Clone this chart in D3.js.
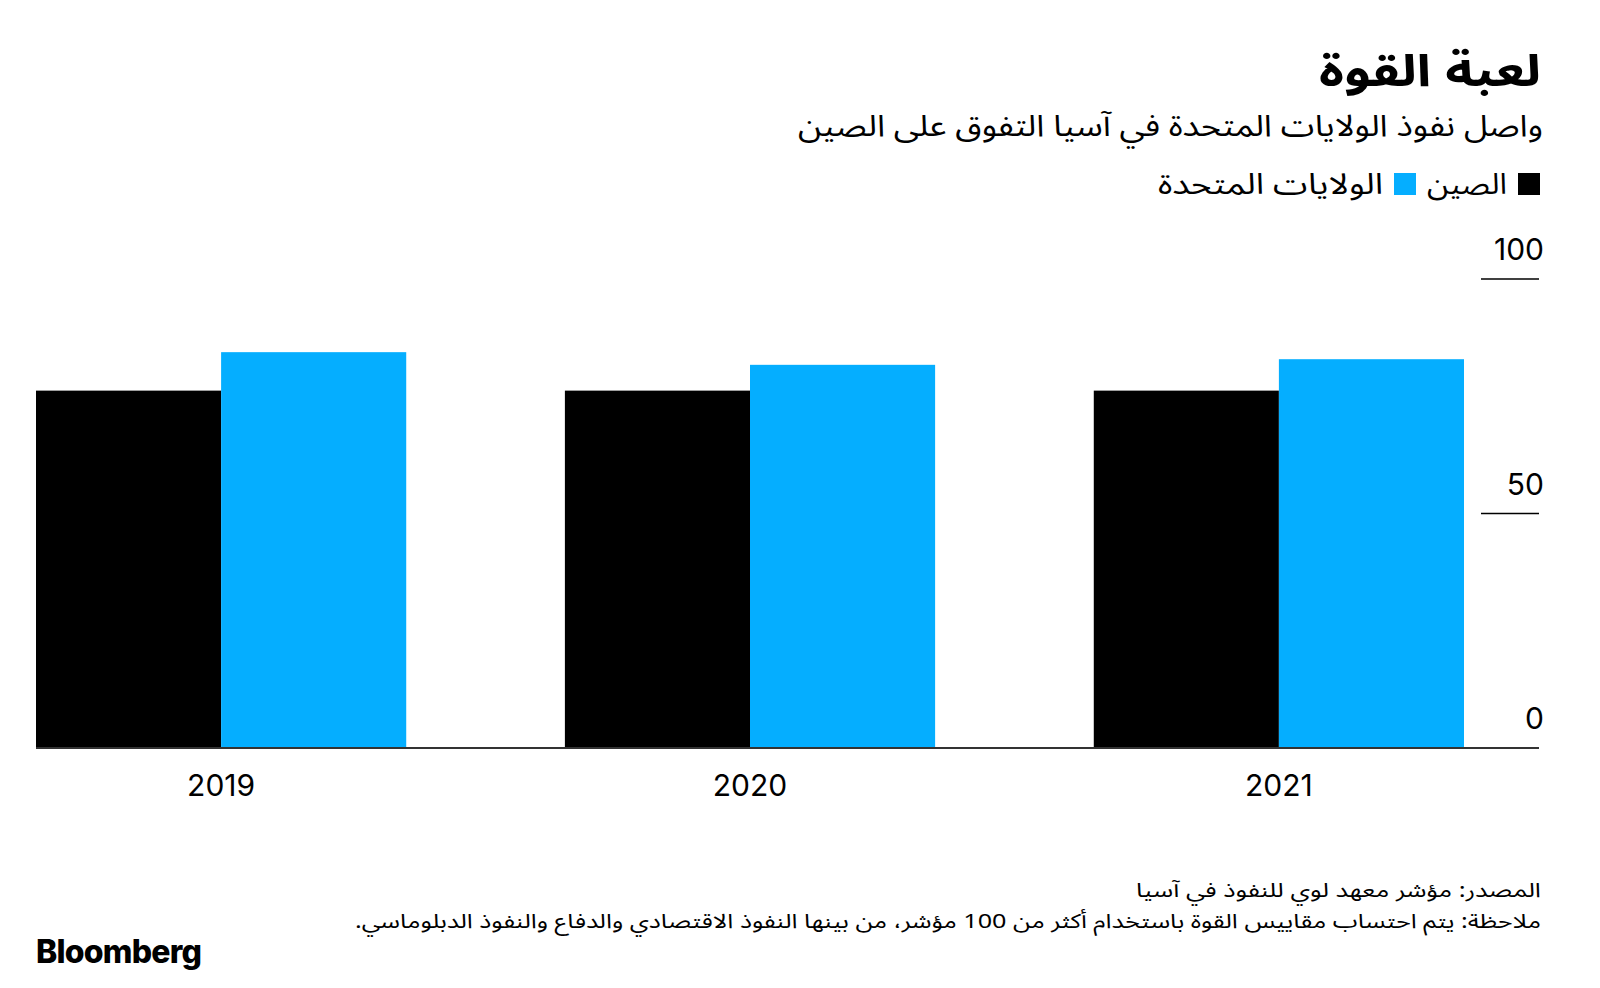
<!DOCTYPE html>
<html>
<head>
<meta charset="utf-8">
<script src="https://cdn.jsdelivr.net/npm/d3@7"></script>
<style>
  html, body { margin: 0; padding: 0; background: #fff; }
  svg { display: block; }
  .ar { font-family: "Noto Sans Arabic", "DejaVu Sans", sans-serif; }
  .num { font-family: "Inter", "Roboto", "Noto Sans", sans-serif; }
</style>
</head>
<body>
<svg id="chart" width="1600" height="988"></svg>
<script>
// ---- data ----
const years = ["2019", "2020", "2021"];
const seriesNames = ["الصين", "الولايات المتحدة"];
const seriesColors = ["#000000", "#05aeff"];
const chinaValues = [76.2, 76.2, 76.2];
const usValues = [84.4, 81.7, 82.9];
const yTicks = [0, 50, 100];

const titleText = "لعبة القوة";
const subtitleText = "واصل نفوذ الولايات المتحدة في آسيا التفوق على الصين";
const sourceText = "المصدر: مؤشر معهد لوي للنفوذ في آسيا";
const noteText = "ملاحظة: يتم احتساب مقاييس القوة باستخدام أكثر من 100 مؤشر، من بينها النفوذ الاقتصادي والدفاع والنفوذ الدبلوماسي.";

const svg = d3.select("#chart");
const rightEdge = 1541;

// ---- scales ----
const x0 = d3.scaleBand().domain(years).range([36, 1464]).paddingInner(0.3).paddingOuter(0);
const x1 = d3.scaleBand().domain([0, 1]).range([0, x0.bandwidth()]).padding(0);
const y = d3.scaleLinear().domain([0, 100]).range([748, 279]);

const rows = years.map((yr, i) => ({ year: yr, vals: [chinaValues[i], usValues[i]] }));

// ---- helper for right-aligned Arabic text, widened to the reference's measure ----
function rtlText(sel, txt, xx, yy, size, weight, len) {
  const t = sel.append("text")
    .attr("class", "ar")
    .attr("x", xx).attr("y", yy)
    .attr("direction", "rtl")
    .style("direction", "rtl")
    .attr("text-anchor", "start")
    .attr("font-size", size)
    .attr("font-weight", weight || 400)
    .attr("fill", "#000")
    .text(txt);
  if (len) t.attr("textLength", len).attr("lengthAdjust", "spacingAndGlyphs");
  return t;
}
rtlText(svg, titleText, rightEdge, 86, 44, 700, 222);
rtlText(svg, subtitleText, rightEdge + 2, 136, 30, 400, 745);

// ---- legend ----
const legend = svg.append("g");
const legendTextLens = [80, 225];
const legendSquares = [1518, 1394];
seriesNames.forEach((name, i) => {
  const sx = legendSquares[i];
  legend.append("rect")
    .attr("x", sx).attr("y", 173).attr("width", 22).attr("height", 22)
    .attr("fill", seriesColors[i]);
  rtlText(legend, name, sx - 11, 194, 29, 400, legendTextLens[i]);
});

// ---- bars ----
const g = svg.append("g");
g.selectAll("g.grp").data(rows).join("g")
  .attr("class", "grp")
  .attr("transform", d => `translate(${x0(d.year)},0)`)
  .selectAll("rect").data(d => d.vals.map((v, k) => ({ v, k }))).join("rect")
  .attr("x", d => x1(d.k))
  .attr("width", x1.bandwidth())
  .attr("y", d => y(d.v))
  .attr("height", d => y(0) - y(d.v))
  .attr("fill", d => seriesColors[d.k]);

// ---- y axis (right) ----
const yAxis = svg.append("g");
yTicks.forEach(t => {
  if (t !== 0) {
    yAxis.append("line")
      .attr("x1", 1481).attr("x2", 1539)
      .attr("y1", y(t)).attr("y2", y(t))
      .attr("stroke", "#000").attr("stroke-width", 1.5);
  }
  yAxis.append("text")
    .attr("class", "num")
    .attr("x", 1544).attr("y", y(t) - 19)
    .attr("text-anchor", "end")
    .attr("font-size", 30)
    .attr("fill", "#000")
    .text(t);
});

// baseline
svg.append("line")
  .attr("x1", 36).attr("x2", 1539)
  .attr("y1", y(0)).attr("y2", y(0))
  .attr("stroke", "#333").attr("stroke-width", 2);

// ---- x axis labels ----
const xAxis = d3.axisBottom(x0).tickSize(0).tickPadding(0);
const xg = svg.append("g").attr("transform", `translate(0,${y(0)})`).call(xAxis);
xg.select(".domain").remove();
xg.selectAll("text")
  .attr("class", "num")
  .attr("font-size", 30)
  .attr("fill", "#000")
  .attr("dy", 0)
  .attr("y", 48);

// ---- footer ----
rtlText(svg, sourceText, rightEdge, 897, 20, 400, 405);
rtlText(svg, noteText, rightEdge, 928, 20, 400, 1186);

svg.append("text")
  .attr("x", 36).attr("y", 963)
  .attr("font-family", "Inter, Roboto, sans-serif")
  .attr("font-weight", 800)
  .attr("font-size", 32)
  .attr("letter-spacing", -0.8)
  .attr("fill", "#000")
  .text("Bloomberg");
</script>
</body>
</html>
